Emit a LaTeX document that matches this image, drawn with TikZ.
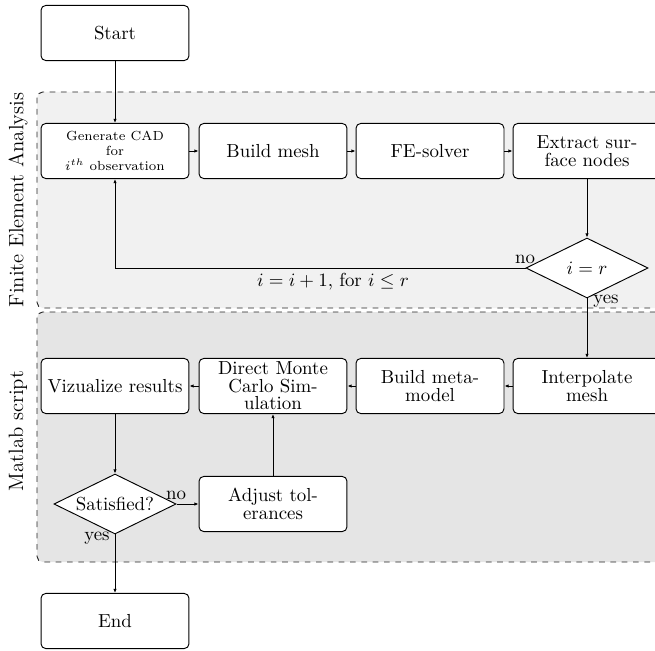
\documentclass[tikz,border=0pt]{standalone}
\usetikzlibrary{shapes.geometric,arrows.meta}
\definecolor{feafill}{RGB}{241,241,241}
\definecolor{matfill}{RGB}{229,229,229}
\begin{document}
\begin{tikzpicture}[x=0.53pt,y=-0.53pt,
  box/.style={draw, rounded corners=2.5pt, fill=white, minimum width=78.4pt, minimum height=29.2pt, inner sep=1pt, align=center, line width=0.5pt},
  dec/.style={draw, diamond, aspect=2, fill=white, minimum width=64.7pt, minimum height=31.8pt, inner sep=0pt, line width=0.5pt},
  region/.style={draw=black!85, dashed, rounded corners=3pt, line width=0.5pt},
  arr/.style={-{Latex[length=2.2pt,width=1.8pt]}, line width=0.45pt},
  lab/.style={inner sep=0pt},
  side/.style={rotate=90, inner sep=0pt, font=\fontsize{11}{13}\selectfont}]
\clip (0,0) rectangle (655,650);
\useasboundingbox (0,0) rectangle (655,650);
% regions
\path[region, fill=feafill] (37,92) rectangle (720,308);
\path[region, fill=matfill] (37,312) rectangle (720,562);
\node[side] (feal) at (18,200) {Finite Element Analysis};
\node[side] (matl) at (18,431) {Matlab script};
% nodes
\node[box] (start) at (115,33) {Start};
\node[box, font=\scriptsize] (gen) at (115,151) {Generate CAD\\for\\$i^{th}$ observation};
\node[box] (mesh) at (273,151) {Build mesh};
\node[box] (fes) at (430,151) {FE-solver};
\node[box] (ext) at (587,151) {Extract sur-\\[-2.7pt]face nodes};
\node[dec] (d1) at (587,268) {$i=r$};
\node[box] (interp) at (587,386) {Interpolate\\[-2.7pt]mesh};
\node[box] (meta) at (430,386) {Build meta-\\[-2.7pt]model};
\node[box] (dmc) at (273,386) {Direct Monte\\[-2.7pt]Carlo Sim-\\[-2.7pt]ulation};
\node[box] (viz) at (115,386) {Vizualize results};
\node[dec] (d2) at (115,504) {Satisfied?};
\node[box] (adj) at (273,504) {Adjust tol-\\[-2.7pt]erances};
\node[box] (endn) at (115,621) {End};
% connectors
\draw[arr] (start) -- (gen);
\draw[arr] (gen) -- (mesh);
\draw[arr] (mesh) -- (fes);
\draw[arr] (fes) -- (ext);
\draw[arr] (ext) -- (d1);
\draw[arr] (d1.west) -| (gen.south);
\draw[arr] (d1.south) -- (interp.north);
\draw[arr] (interp) -- (meta);
\draw[arr] (meta) -- (dmc);
\draw[arr] (dmc) -- (viz);
\draw[arr] (viz) -- (d2.north);
\draw[arr] (d2.east) -- (adj);
\draw[arr] (adj) -- (dmc);
\draw[arr] (d2.south) -- (endn);
% labels
\node[lab] (no1) at (525,259) {no};
\node[lab] (yes1) at (606,301) {yes};
\node[lab] (loop) at (333,282) {$i=i+1$, for $i\le r$};
\node[lab] (no2) at (176,495) {no};
\node[lab] (yes2) at (97,538) {yes};
\end{tikzpicture}
\end{document}
